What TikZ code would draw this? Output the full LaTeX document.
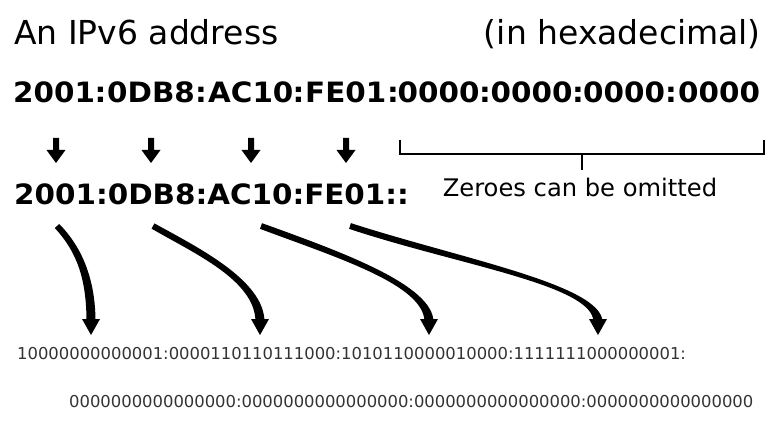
\documentclass[tikz,border=0pt]{standalone}
\usepackage{fontspec}
\setmainfont{DejaVu Sans}
\newfontfamily\hexfont[FakeStretch=1.05]{DejaVu Sans}
\usetikzlibrary{calc}
\newcommand\taparrow[4]{%
  \fill ($(#1)!3pt!90:(#2)$) .. controls ($(#2)!3.5pt!-90:(#1)$) and ($(#3)!4.5pt!90:(#4)$) .. ($(#4)!4.5pt!-90:(#3)$)
    -- ($(#4)!4.5pt!90:(#3)$) .. controls ($(#3)!4.5pt!-90:(#4)$) and ($(#2)!3.5pt!90:(#1)$) .. ($(#1)!3pt!-90:(#2)$) -- cycle;
  \fill ($(#4)+(-9,-3)$) -- ($(#4)+(9,-3)$) -- ($(#4)+(0,13)$) -- cycle;
}
\begin{document}
\begin{tikzpicture}[x=1pt,y=-1pt,
  title/.style={inner sep=0pt, font=\fontsize{33}{36}\selectfont},
  hexgrp/.style={anchor=base west, inner sep=0pt, font=\hexfont\fontsize{28}{30}\selectfont\bfseries},
  hexcol/.style={anchor=base, inner sep=0pt, font=\hexfont\fontsize{28}{30}\selectfont\bfseries},
  binrow/.style={anchor=base west, inner sep=0pt, text=black!80, font=\fontsize{16.4}{18}\selectfont},
  note/.style={anchor=base, inner sep=0pt, font=\fontsize{24.2}{28}\selectfont},
  bracket/.style={line width=2pt},
  smallarrow/.style={fill=black}]
\useasboundingbox (0,0) rectangle (782,422);
% titles
\node[title, anchor=base west] (t1) at (14,45) {An IPv6 address};
\node[title, anchor=base east] (t2) at (761,45) {(in hexadecimal)};
% full address
\node[hexgrp] (h1) at (13,103) {2001};
\node[hexcol] (k1) at (100.5,103) {:};
\node[hexgrp] (h2) at (107,103) {0DB8};
\node[hexcol] (k2) at (201,103) {:};
\node[hexgrp] (h3) at (208,103) {AC10};
\node[hexcol] (k3) at (298.5,103) {:};
\node[hexgrp] (h4) at (305,103) {FE01};
\node[hexcol] (k4) at (393,103) {:};
\node[hexgrp] (h5) at (397.5,103) {0000};
\node[hexcol] (k5) at (485,103) {:};
\node[hexgrp] (h6) at (490.5,103) {0000};
\node[hexcol] (k6) at (578,103) {:};
\node[hexgrp] (h7) at (583,103) {0000};
\node[hexcol] (k7) at (671,103) {:};
\node[hexgrp] (h8) at (678,103) {0000};
% small arrows
\foreach \x/\n in {56/a1,151/a2,251/a3,346/a4}{
  \fill[smallarrow] (\x-3,138) -- (\x+3,138) -- (\x+3,150) -- (\x+9.5,150)
     -- (\x,163) -- (\x-9.5,150) -- (\x-3,150) -- cycle;
}
% bracket
\coordinate (bl) at (400,140);
\coordinate (br) at (764,140);
\coordinate (bm) at (582,170);
\draw[bracket] (bl) |- (582,154) -| (br);
\draw[bracket] (582,154) -- (bm);
\node[note] (z) at (580,197) {Zeroes can be omitted};
% short address
\node[hexgrp] (g1) at (14,205) {2001:0DB8:AC10:FE01::};
% binary
\node[binrow] (b1) at (17,359) {10000000000001:0000110110111000:1010110000010000:1111111000000001:};
\node[binrow] (b2) at (69,407) {0000000000000000:0000000000000000:0000000000000000:0000000000000000};
% curved arrows
\coordinate (s1) at (57,226); \coordinate (p1) at (80,250); \coordinate (q1) at (91,280); \coordinate (e1) at (91,322);
\coordinate (s2) at (153,226); \coordinate (p2) at (195,250); \coordinate (q2) at (260,280); \coordinate (e2) at (260,322);
\coordinate (s3) at (261,226); \coordinate (p3) at (340,255); \coordinate (q3) at (429,285); \coordinate (e3) at (429,322);
\coordinate (s4) at (350,226); \coordinate (p4) at (460,262); \coordinate (q4) at (598,285); \coordinate (e4) at (598,322);
\taparrow{s1}{p1}{q1}{e1}
\taparrow{s2}{p2}{q2}{e2}
\taparrow{s3}{p3}{q3}{e3}
\taparrow{s4}{p4}{q4}{e4}
\end{tikzpicture}
\end{document}
